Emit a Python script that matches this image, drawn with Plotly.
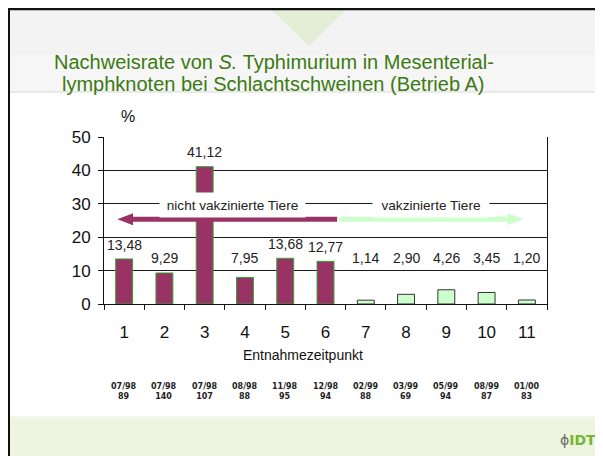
import plotly.graph_objects as go

# ---------------- data ----------------
categories = ["1", "2", "3", "4", "5", "6", "7", "8", "9", "10", "11"]
rates = [13.48, 9.29, 41.12, 7.95, 13.68, 12.77, 1.14, 2.90, 4.26, 3.45, 1.20]
rate_labels = ["13,48", "9,29", "41,12", "7,95", "13,68", "12,77", "1,14", "2,90", "4,26", "3,45", "1,20"]
vaccinated = [False, False, False, False, False, False, True, True, True, True, True]
dates = ["07/98", "07/98", "07/98", "08/98", "11/98", "12/98", "02/99", "03/99", "05/99", "08/99", "01/00"]
n_animals = ["89", "140", "107", "88", "95", "94", "88", "69", "94", "87", "83"]
y_ticks = [0, 10, 20, 30, 40, 50]

# ---------------- style ----------------
SW, SH = 603, 456          # window size
OFF = 8                    # page body margin
W, H = SW - OFF, SH - OFF  # figure size
PL, PR, PT, PB = 104, 547, 137, 304   # plot area in window pixels
PURPLE = "#993366"
LIGHTGREEN = "#ccffcc"
TITLEGREEN = "#3b7a12"
FONT = "Liberation Sans"


def px(x):
    return (x - PL) / (PR - PL)


def py(y):
    return (PB - y) / (PB - PT)


fig = go.Figure()
fig.add_trace(go.Bar(
    x=categories, y=rates, width=0.42,
    marker=dict(color=[LIGHTGREEN if v else PURPLE for v in vaccinated],
                line=dict(color=["#333333" if v else "#33a033" for v in vaccinated], width=1)),
    hoverinfo="skip", showlegend=False,
))

shapes = []
# slide background
shapes.append(dict(type="rect", xref="paper", yref="paper", x0=px(OFF), x1=px(SW), y0=py(92), y1=py(OFF),
                   fillcolor="#f6f6f6", line_width=0, layer="below"))
shapes.append(dict(type="rect", xref="paper", yref="paper", x0=px(OFF), x1=px(SW), y0=py(55), y1=py(OFF),
                   fillcolor="#f3f3f3", line_width=0, layer="below"))
shapes.append(dict(type="line", xref="paper", yref="paper", x0=px(OFF), x1=px(SW), y0=py(92), y1=py(92),
                   line=dict(color="#d8d8d8", width=1), layer="below"))
shapes.append(dict(type="path", xref="paper", yref="paper",
                   path=f"M {px(272)} {py(10)} L {px(346)} {py(10)} L {px(309)} {py(46)} Z",
                   fillcolor="rgba(205,228,170,0.4)", line_width=0, layer="below"))
shapes.append(dict(type="rect", xref="paper", yref="paper", x0=px(OFF), x1=px(SW), y0=py(SH), y1=py(416),
                   fillcolor="#edf4e0", line_width=0, layer="below"))
shapes.append(dict(type="rect", xref="paper", yref="paper", x0=px(OFF), x1=px(SW), y0=py(420), y1=py(416),
                   fillcolor="#f3f7ea", line_width=0, layer="below"))
shapes.append(dict(type="line", xref="paper", yref="paper", x0=px(OFF), x1=px(SW), y0=py(9), y1=py(9),
                   line=dict(color="#111111", width=2.5), layer="below"))
shapes.append(dict(type="line", xref="paper", yref="paper", x0=px(9), x1=px(9), y0=py(9), y1=py(SH),
                   line=dict(color="#111111", width=2), layer="below"))

# arrows (data coordinates, category index on x)
AY = 25.4
hh = 1.8
shapes.append(dict(type="line", xref="x", yref="y", x0=0.18, x1=5.29, y0=AY, y1=AY,
                   line=dict(color=PURPLE, width=5), layer="above"))
shapes.append(dict(type="path", xref="x", yref="y",
                   path=f"M -0.17 {AY} L 0.22 {AY + hh} L 0.22 {AY - hh} Z",
                   fillcolor=PURPLE, line_width=0, layer="above"))
shapes.append(dict(type="line", xref="x", yref="y", x0=5.34, x1=9.55, y0=AY, y1=AY,
                   line=dict(color=LIGHTGREEN, width=5), layer="above"))
shapes.append(dict(type="path", xref="x", yref="y",
                   path=f"M 9.92 {AY} L 9.52 {AY + hh} L 9.52 {AY - hh} Z",
                   fillcolor=LIGHTGREEN, line_width=0, layer="above"))

ann = []
# title
ann.append(dict(xref="paper", yref="paper", x=px(52), y=py(62), xanchor="left", yanchor="middle",
                text="Nachweisrate von <i>S.</i> Typhimurium in Mesenterial-", showarrow=False,
                font=dict(family=FONT, size=20, color=TITLEGREEN)))
ann.append(dict(xref="paper", yref="paper", x=px(60), y=py(84), xanchor="left", yanchor="middle",
                text="lymphknoten bei Schlachtschweinen (Betrieb A)", showarrow=False,
                font=dict(family=FONT, size=20, color=TITLEGREEN)))
# y unit
ann.append(dict(xref="paper", yref="paper", x=px(119), y=py(117), yanchor="middle", text="%", showarrow=False,
                font=dict(family=FONT, size=16, color="#111111")))
# group labels with white boxes
ann.append(dict(xref="x", yref="y", x=2.68, y=29.6, yanchor="middle", text="nicht vakzinierte Tiere",
                showarrow=False, bgcolor="white", width=145, height=24, borderpad=0,
                font=dict(family=FONT, size=13.6, color="#222222")))
ann.append(dict(xref="x", yref="y", x=7.62, y=29.6, yanchor="middle", text="vakzinierte Tiere",
                showarrow=False, bgcolor="white", width=116, height=24, borderpad=0,
                font=dict(family=FONT, size=13.6, color="#222222")))
# value labels
for i, (v, lab) in enumerate(zip(rates, rate_labels)):
    ann.append(dict(xref="x", yref="y", x=i, y=max(v + 4.3, 13.9), text=lab, showarrow=False,
                    yanchor="middle", font=dict(family=FONT, size=14, color="#222222")))
# x axis title
ann.append(dict(xref="paper", yref="paper", x=px(303), y=py(355), yanchor="middle", text="Entnahmezeitpunkt",
                showarrow=False, font=dict(family=FONT, size=14, color="#111111")))
# dates / sample size
for i, (d, n) in enumerate(zip(dates, n_animals)):
    ann.append(dict(xref="x", yref="paper", x=i, y=py(391), yanchor="middle", text=f"<b>{d}<br>{n}</b>",
                    showarrow=False, font=dict(family="DejaVu Sans", size=8, color="#222222")))
# logo
ann.append(dict(xref="paper", yref="paper", x=px(598), y=py(440), xanchor="right", yanchor="middle",
                text='<span style="color:#6d6d6d">ϕ</span><b><span style="color:#78b530">IDT</span></b>',
                showarrow=False, font=dict(family="DejaVu Sans", size=14)))

fig.update_layout(
    width=W, height=H,
    margin=dict(l=PL - OFF, r=SW - PR, t=PT - OFF, b=SH - PB, pad=0),
    paper_bgcolor="white", plot_bgcolor="rgba(0,0,0,0)",
    shapes=shapes, annotations=ann, showlegend=False, bargap=0.58,
    xaxis=dict(type="category", range=[-0.5, 10.5], tickson="boundaries", ticks="outside", ticklen=5,
               tickcolor="#111111", showline=True, linecolor="#111111", linewidth=1, mirror=False,
               showgrid=False, ticklabelstandoff=13,
               tickfont=dict(family=FONT, size=17, color="#111111")),
    yaxis=dict(range=[0, 50], tickvals=y_ticks, ticks="outside", ticklen=5, tickcolor="#111111",
               showline=True, linecolor="#111111", linewidth=1, mirror=True,
               showgrid=True, gridcolor="#1a1a1a", gridwidth=1, zeroline=False, ticklabelstandoff=4,
               tickfont=dict(family=FONT, size=17, color="#111111")),
)

fig.write_html("out.html")
